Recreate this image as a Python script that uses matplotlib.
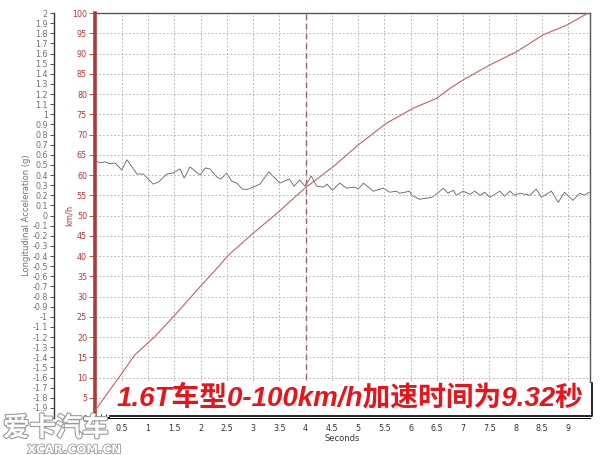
import matplotlib
matplotlib.use("Agg")
import matplotlib.pyplot as plt
import matplotlib.ticker as tkr
import matplotlib.patheffects as pe
from matplotlib.patches import Rectangle

# speed trace (seconds, km/h)
speed_t = [0.0, 0.50, 0.75, 1.13, 1.51, 1.99, 2.28, 2.53, 3.00, 3.45, 3.99, 4.53,
           5.00, 5.54, 6.05, 6.49, 6.75, 7.00, 7.51, 8.01, 8.52, 8.97, 9.38]
speed_v = [2.0, 11.0, 15.6, 20.1, 25.4, 32.4, 36.5, 40.2, 45.6, 50.5, 56.8, 62.1,
           67.4, 72.8, 76.5, 78.9, 81.4, 83.5, 87.2, 90.4, 94.6, 97.0, 100.0]

# longitudinal acceleration trace (seconds, g)
acc_t = [0.0, 0.09, 0.18, 0.28, 0.37, 0.50, 0.60, 0.79, 0.91, 1.10, 1.20, 1.36,
         1.48, 1.61, 1.69, 1.80, 1.99, 2.09, 2.18, 2.31, 2.39, 2.50, 2.59, 2.69,
         2.80, 2.91, 3.13, 3.30, 3.51, 3.69, 3.78, 3.89, 3.99, 4.11, 4.21, 4.34,
         4.41, 4.51, 4.65, 4.78, 4.94, 5.00, 5.10, 5.29, 5.48, 5.60, 5.73, 5.79,
         5.89, 5.98, 6.02, 6.17, 6.40, 6.49, 6.62, 6.71, 6.81, 6.87, 7.00, 7.13,
         7.22, 7.32, 7.41, 7.51, 7.70, 7.79, 7.89, 7.98, 8.08, 8.27, 8.39, 8.49,
         8.68, 8.74, 8.81, 8.93, 9.09, 9.22, 9.31, 9.40]
acc_g = [0.54, 0.52, 0.53, 0.51, 0.52, 0.45, 0.55, 0.41, 0.41, 0.31, 0.33, 0.41,
         0.42, 0.46, 0.37, 0.48, 0.40, 0.47, 0.46, 0.38, 0.36, 0.42, 0.34, 0.32,
         0.26, 0.26, 0.31, 0.43, 0.32, 0.36, 0.29, 0.35, 0.29, 0.39, 0.29, 0.28,
         0.31, 0.25, 0.32, 0.27, 0.28, 0.26, 0.32, 0.24, 0.27, 0.23, 0.24, 0.22,
         0.23, 0.24, 0.20, 0.16, 0.18, 0.21, 0.27, 0.22, 0.25, 0.20, 0.24, 0.21,
         0.24, 0.20, 0.23, 0.18, 0.24, 0.19, 0.24, 0.20, 0.22, 0.20, 0.26, 0.18,
         0.24, 0.19, 0.13, 0.23, 0.15, 0.22, 0.20, 0.23]

marker_t = 4.0
title = "1.6T车型0-100km/h加速时间为9.32秒"

red = "#b03a3a"
grey_txt = "#707070"

fig = plt.figure(figsize=(6.08, 4.55), dpi=100)
ax = fig.add_axes([0.157, 0.0813, 0.813, 0.8901])

ax.plot(speed_t, speed_v, color="#c46060", lw=0.8, zorder=9.5, clip_on=True)
ax.axvline(marker_t, color="#a06060", lw=1.0, ls=(0, (4, 3)), zorder=2)

ax.set_xlim(0, 9.41)
ax.set_ylim(0, 100)
ax.xaxis.set_major_locator(tkr.MultipleLocator(0.5))
ax.xaxis.set_minor_locator(tkr.MultipleLocator(0.1))
ax.xaxis.set_major_formatter(tkr.FormatStrFormatter("%g"))
ax.yaxis.set_major_locator(tkr.MultipleLocator(5))
ax.grid(True, which="major", color="#a8a8a8", ls=(0, (2, 2.5)), lw=0.6)

ax.tick_params(axis="x", which="both", direction="in", length=3, width=0.6,
               labelsize=5.8, labelcolor="#333333", pad=4)
ax.tick_params(axis="x", which="major", length=4)
ax.tick_params(axis="y", direction="out", length=4, width=0.6, colors=red,
               labelsize=5.8, pad=2)
ax.spines["left"].set_color(red)
ax.spines["left"].set_linewidth(2.6)
ax.spines["bottom"].set_color("black")
ax.spines["bottom"].set_linewidth(1.4)
for s in ["top", "right"]:
    ax.spines[s].set_color("#555555")
    ax.spines[s].set_linewidth(1.0)
ax.set_xlabel("Seconds", fontsize=6, color="#333333", labelpad=1)
ax.set_ylabel("km/h", fontsize=6, color=red)
ax.yaxis.set_label_coords(-0.043, 0.5)

# acceleration axis on the far left
ax2 = ax.twinx()
ax2.plot(acc_t, acc_g, color="#606060", lw=0.6, zorder=3)
ax2.set_ylim(-2, 2)
ax2.yaxis.tick_left()
ax2.yaxis.set_label_position("left")
ax2.spines["left"].set_position(("axes", -0.0837))
ax2.spines["left"].set_visible(True)
ax2.spines["left"].set_color("#333333")
ax2.spines["left"].set_linewidth(1.0)
for s in ["top", "right", "bottom"]:
    ax2.spines[s].set_visible(False)
ax2.yaxis.set_major_locator(tkr.MultipleLocator(0.1))
ax2.yaxis.set_major_formatter(tkr.FuncFormatter(lambda v, p: "%g" % round(v, 1) if abs(v) > 1e-9 else "0"))
ax2.tick_params(axis="y", direction="out", length=3, width=0.6, colors="#333333",
                labelcolor=grey_txt, labelsize=5.8, pad=1.5)
ax2.set_ylabel("Longitudinal Acceleration (g)", fontsize=6, color=grey_txt)
ax2.yaxis.set_label_coords(-0.13, 0.5)

# headline box (white panel with black right/bottom edge), drawn on the speed axes
ax2.set_zorder(ax.get_zorder() - 1)
ax.patch.set_visible(False)
ax2.patch.set_visible(True)
ax2.patch.set_facecolor("white")
ax.add_patch(Rectangle((0.03, 0.0), 0.974, 0.087, transform=ax.transAxes,
                       facecolor="white", edgecolor="none", zorder=8, clip_on=False))
ax.plot([0.03, 1.004, 1.004], [0.004, 0.004, 0.087], transform=ax.transAxes,
        color="black", lw=1.2, zorder=9, clip_on=False)
ax.text(0.515, 0.05, title, transform=ax.transAxes, ha="center", va="center",
        fontsize=20, color="#e8141c", fontweight="bold", fontstyle="italic",
        family=["Liberation Sans", "Noto Sans CJK SC"], zorder=10)

# watermark
halo = [pe.withStroke(linewidth=1.6, foreground="#9a9a9a")]
fig.text(0.005, 0.042, "爱卡汽车", fontsize=19, color="white", family=["Noto Sans CJK SC"],
         fontweight="bold", path_effects=halo, zorder=20)
fig.text(0.045, 0.004, "XCAR.COM.CN", fontsize=8.5, color="white", family=["DejaVu Sans"],
         fontweight="bold", path_effects=[pe.withStroke(linewidth=1.2, foreground="#9a9a9a")], zorder=20)

fig.savefig("out.png", dpi=100)
